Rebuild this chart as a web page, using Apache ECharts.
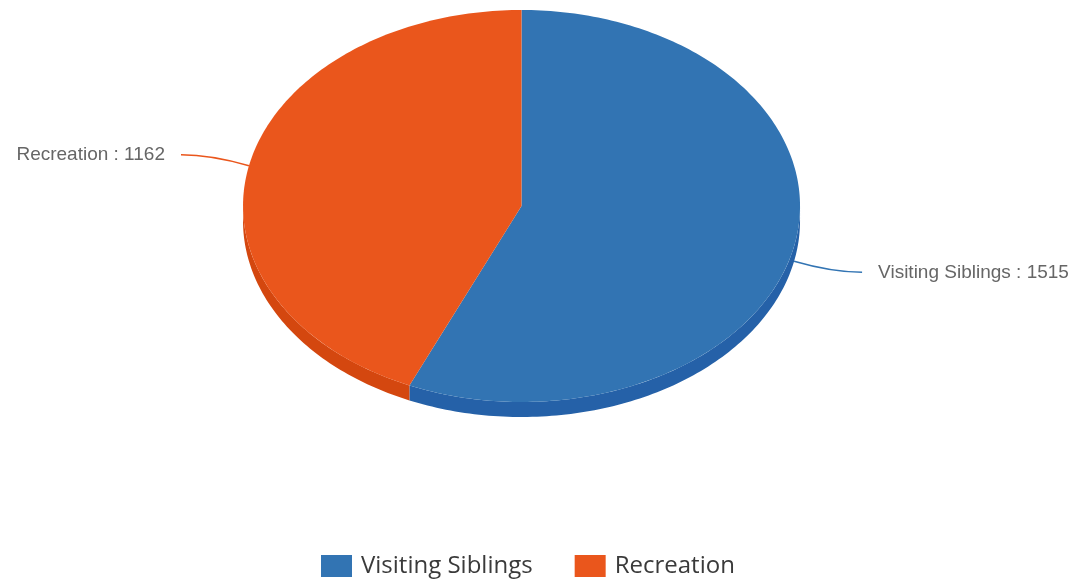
<!DOCTYPE html>
<html>
<head>
<meta charset="utf-8">
<script src="https://cdn.jsdelivr.net/npm/echarts@6/dist/echarts.min.js"></script>
<style>
  html, body { margin: 0; padding: 0; background: #fff; }
  #chart { width: 1072px; height: 581px; }
</style>
</head>
<body>
<div id="chart"></div>
<script>
// data
var names = ['Visiting Siblings', 'Recreation'];
var values = [1515, 1162];

// slice colours (top face / side wall)
var topColors = ['#3274b3', '#ea561c'];
var sideColors = ['#2561a8', '#d4470f'];

function ellPt(cx, cy, rx, ry, deg) {
    var a = deg * Math.PI / 180;
    return [cx + rx * Math.sin(a), cy - ry * Math.cos(a)];
}

function arcPts(cx, cy, rx, ry, from, to) {
    var pts = [];
    var n = Math.max(2, Math.ceil(Math.abs(to - from)));
    for (var k = 0; k <= n; k++) {
        pts.push(ellPt(cx, cy, rx, ry, from + (to - from) * k / n));
    }
    return pts;
}

// pseudo 3d pie slice, one series per category
function renderSlice(params, api) {
    var i = params.seriesIndex;
    var W = api.getWidth();
    var cx = W * 0.4865, cy = 206, rx = 278.5, ry = 196, depth = 15;
    var total = values.reduce(function (s, v) { return s + v; }, 0);
    var before = 0;
    for (var j = 0; j < i; j++) before += values[j];
    var v = api.value(0);
    var a0 = before / total * 360;
    var a1 = (before + v) / total * 360;
    var children = [];

    // side wall, only the front half shows
    var s0 = Math.max(a0, 90), s1 = Math.min(a1, 270);
    if (s1 > s0) {
        var upper = arcPts(cx, cy, rx, ry, s0, s1);
        var lower = arcPts(cx, cy + depth, rx, ry, s1, s0);
        children.push({
            type: 'polygon',
            shape: { points: upper.concat(lower) },
            style: { fill: sideColors[i] }
        });
    }

    // top face
    children.push({
        type: 'polygon',
        shape: { points: [[cx, cy]].concat(arcPts(cx, cy, rx, ry, a0, a1)) },
        style: { fill: topColors[i] }
    });

    // label + leader line
    var mid = (a0 + a1) / 2;
    var p = ellPt(cx, cy, rx, ry, mid);
    var front = Math.cos(mid * Math.PI / 180) < 0;
    if (front) p[1] += depth;
    var dir = Math.sin(mid * Math.PI / 180) >= 0 ? 1 : -1;
    var end = [p[0] + dir * 68, p[1] + (front ? 11 : -11)];
    children.push({
        type: 'bezierCurve',
        shape: {
            x1: p[0], y1: p[1], x2: end[0], y2: end[1],
            cpx1: end[0] - dir * 30, cpy1: end[1]
        },
        style: { stroke: topColors[i], lineWidth: 1.5, fill: null }
    });
    children.push({
        type: 'text',
        style: {
            x: end[0] + dir * 16,
            y: end[1],
            text: names[i] + ' : ' + v,
            fill: '#666',
            fontSize: 19,
            fontFamily: 'Liberation Sans, Arial, sans-serif',
            align: dir > 0 ? 'left' : 'right',
            verticalAlign: 'middle'
        }
    });

    return { type: 'group', children: children };
}

var chart = echarts.init(document.getElementById('chart'));
chart.setOption({
    backgroundColor: '#fff',
    animation: false,
    legend: {
        data: names,
        left: 321,
        bottom: 3,
        padding: 0,
        icon: 'rect',
        itemWidth: 31,
        itemHeight: 22,
        itemGap: 42,
        textStyle: {
            fontSize: 24,
            color: '#3a3a3a',
            fontFamily: 'Open Sans',
            padding: [0, 0, 0, 4]
        }
    },
    series: names.map(function (n, i) {
        return {
            type: 'custom',
            name: n,
            coordinateSystem: 'none',
            silent: true,
            itemStyle: { color: topColors[i] },
            data: [[values[i]]],
            renderItem: renderSlice
        };
    })
});
</script>
</body>
</html>
